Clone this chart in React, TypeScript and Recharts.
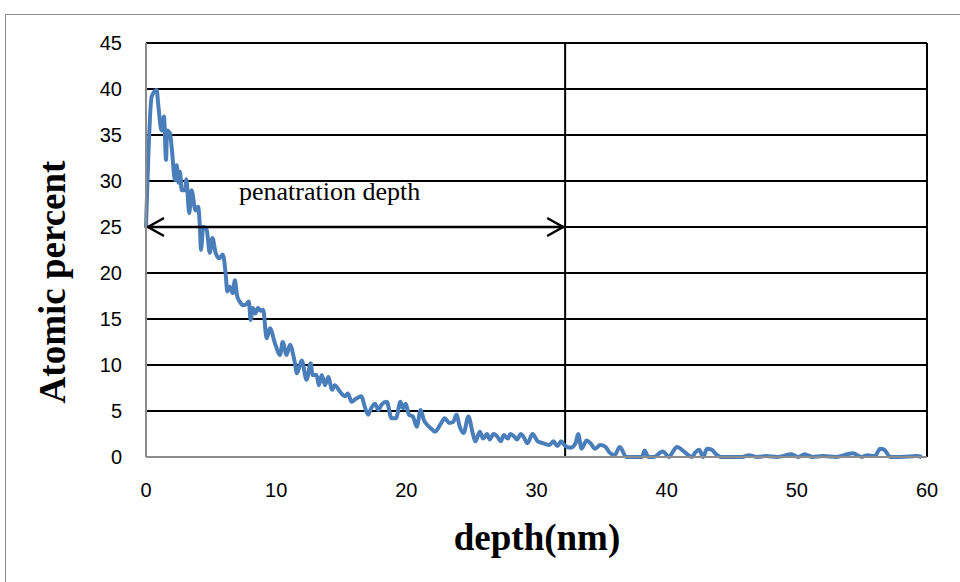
import React from 'react'
import { LineChart, Line, XAxis, YAxis, CartesianGrid, ReferenceLine } from 'recharts'

// depth (nm) of each sample
const depths = [
  0, 0.44, 0.82, 0.94, 1.2, 1.38, 1.54, 1.62, 1.84, 1.97, 2.23, 2.36, 2.5, 2.61, 2.74, 3.0, 3.1, 3.32, 3.5, 3.8,
  4.0, 4.15, 4.22, 4.4, 4.66, 4.9, 5.1, 5.35, 5.63, 5.9, 6.14, 6.24, 6.45, 6.66, 6.83, 7.0, 7.2, 7.45, 7.7, 7.9,
  8.04, 8.2, 8.4, 8.6, 8.8, 9.0, 9.27, 9.52, 9.9, 10.3, 10.5, 10.8, 11.06, 11.4, 11.6, 11.96, 12.34, 12.65, 12.8, 13.1,
  13.28, 13.5, 13.75, 14.0, 14.3, 14.5, 14.9, 15.3, 15.5, 15.8, 16.1, 16.55, 16.8, 17.07, 17.3, 17.6, 17.85, 18.1, 18.5, 18.86,
  19.2, 19.55, 19.75, 19.95, 20.2, 20.5, 20.8, 21.1, 21.35, 21.6, 21.9, 22.2, 22.6, 22.95, 23.3, 23.6, 23.85, 24.1, 24.4, 24.77,
  25.1, 25.3, 25.65, 25.9, 26.2, 26.4, 26.7, 27.0, 27.25, 27.5, 27.8, 28.0, 28.3, 28.5, 28.8, 29.0, 29.3, 29.7, 30.1, 30.5,
  31.0, 31.3, 31.6, 31.9, 32.2, 32.6, 33.0, 33.2, 33.46, 33.85, 34.15, 34.5, 34.9, 35.3, 35.6, 36.0, 36.4, 36.9, 37.2, 37.7,
  38.1, 38.3, 38.6, 39.0, 39.7, 40.2, 40.4, 40.8, 41.15, 41.4, 41.95, 42.2, 42.5, 42.8, 43.1, 43.45, 43.8, 44.2, 44.9, 45.3,
  45.8, 46.3, 47.0, 47.6, 48.5, 49.6, 50.1, 50.6, 51.2, 52.0, 53.0, 54.3, 55.0, 55.4, 56.0, 56.4, 56.7, 57.2, 58.0, 59.2, 59.6,
]

// atomic percent at each depth
const percents = [
  24.9, 39.2, 39.9, 38.3, 35.5, 37, 32.3, 35.5, 35.2, 33.7, 30.1, 31.7, 29.8, 31, 29, 29, 30.2, 26.5, 29, 26.8,
  27.2, 24.7, 22.5, 25, 24.7, 22.2, 23.8, 22.2, 21.6, 22, 19.6, 18, 18.5, 17.8, 19.2, 17.5, 16.9, 16.5, 16.6, 16.9,
  14.9, 16.2, 15.6, 16.2, 15.9, 16, 12.9, 14, 12.4, 11.1, 12.5, 11.1, 12.2, 10.5, 9.1, 10.5, 8.4, 10.2, 8.9, 8.9,
  7.8, 8.9, 7.8, 8.7, 7.3, 7.8, 7.1, 6.6, 6.9, 6.0, 6.3, 6.6, 5.5, 4.6, 5.3, 5.8, 5.1, 5.7, 6.0, 4.2,
  4.2, 6.0, 5.3, 5.8, 4.6, 4.4, 3.3, 5.1, 4.0, 3.5, 3.1, 2.75, 3.5, 4.2, 3.7, 3.8, 4.6, 3.3, 2.6, 4.4,
  2.6, 1.7, 2.75, 2.0, 2.5, 1.9, 2.5, 2.2, 1.7, 2.4, 2.0, 2.5, 2.2, 1.9, 2.5, 2.2, 1.5, 2.5, 1.7, 1.5,
  1.3, 1.7, 1.2, 1.7, 1.2, 1.0, 1.5, 2.5, 0.9, 1.8, 1.5, 0.9, 1.3, 1.1, 0.5, 0.2, 1.1, 0, 0, 0,
  0, 0.7, 0, 0, 0.6, 0, 0.4, 1.1, 0.8, 0.5, 0, 0.5, 0.8, 0, 0.9, 0.8, 0.3, 0, 0, 0,
  0, 0.2, 0, 0.1, 0, 0.3, 0, 0.3, 0, 0.1, 0, 0.4, 0, 0.2, 0.1, 0.9, 0.8, 0, 0, 0.1, 0,
]

const yTicks = [0, 5, 10, 15, 20, 25, 30, 35, 40, 45]
const xTicks = [0, 10, 20, 30, 40, 50, 60]

const penetrationDepth = 32.2
const arrowLevel = 25

const data = depths.map((d, i) => ({ depth: d, percent: percents[i] }))

const tickFont = { fill: '#000', fontSize: 20, fontFamily: "'Liberation Sans Narrow', 'Liberation Sans', Arial, sans-serif" }

// double headed arrow drawn along a reference segment
const ArrowShape = (props: any) => {
  const { x1, y1, x2, y2 } = props
  return (
    <g>
      <line x1={x1} y1={y1} x2={x2} y2={y2} stroke="#000" strokeWidth={2.5} />
      <polyline points={`${x1 + 18},${y1 - 9} ${x1 + 2},${y1} ${x1 + 18},${y1 + 9}`} fill="none" stroke="#000" strokeWidth={2.5} />
      <polyline points={`${x2 - 18},${y2 - 9} ${x2 - 2},${y2} ${x2 - 18},${y2 + 9}`} fill="none" stroke="#000" strokeWidth={2.5} />
    </g>
  )
}

export default function App() {
  return (
    <div style={{ position: 'absolute', left: 0, top: 0, width: 960, height: 582, overflow: 'hidden', background: '#fff' }}>
      {/* outer chart frame */}
      <div style={{ position: 'absolute', left: 5, top: 14, width: 1000, height: 1000, border: '1.5px solid #8c8c8c' }} />

      <div style={{ position: 'absolute', left: 0, top: 0 }}>
        <LineChart width={960} height={582} data={data} margin={{ top: 43, right: 33, left: 86, bottom: 85 }}>
          <CartesianGrid horizontal vertical={false} stroke="#000" strokeWidth={1.8} />
          <XAxis
            dataKey="depth"
            type="number"
            domain={[0, 60]}
            ticks={xTicks}
            height={40}
            tickLine={false}
            tickMargin={20}
            stroke="#8c8c8c"
            strokeWidth={2}
            tick={tickFont}
          />
          <YAxis
            type="number"
            domain={[0, 45]}
            ticks={yTicks}
            width={60}
            tickLine={false}
            tickMargin={18}
            stroke="#8c8c8c"
            strokeWidth={2}
            tick={tickFont}
          />
          <ReferenceLine x={60} stroke="#000" strokeWidth={2} />
          <ReferenceLine x={penetrationDepth} stroke="#000" strokeWidth={2} />
          <Line
            type="monotone"
            dataKey="percent"
            stroke="#4a7ebb"
            strokeWidth={4}
            dot={false}
            isAnimationActive={false}
          />
          <ReferenceLine
            segment={[{ x: 0, y: arrowLevel }, { x: penetrationDepth, y: arrowLevel }]}
            shape={ArrowShape}
          />
        </LineChart>
      </div>

      <div
        style={{
          position: 'absolute', left: 239, top: 177, fontSize: 26, whiteSpace: 'nowrap',
          fontFamily: "'Liberation Serif', 'Times New Roman', serif", color: '#000',
        }}
      >
        penatration depth
      </div>

      <div
        style={{
          position: 'absolute', left: 52, top: 282, transform: 'translate(-50%, -50%) rotate(-90deg)',
          fontSize: 37, fontWeight: 'bold', whiteSpace: 'nowrap',
          fontFamily: "'Liberation Serif', 'Times New Roman', serif", color: '#000',
        }}
      >
        Atomic percent
      </div>

      <div
        style={{
          position: 'absolute', left: 537, top: 537, transform: 'translate(-50%, -50%)',
          fontSize: 37, fontWeight: 'bold', whiteSpace: 'nowrap',
          fontFamily: "'Liberation Serif', 'Times New Roman', serif", color: '#000',
        }}
      >
        depth(nm)
      </div>
    </div>
  )
}
